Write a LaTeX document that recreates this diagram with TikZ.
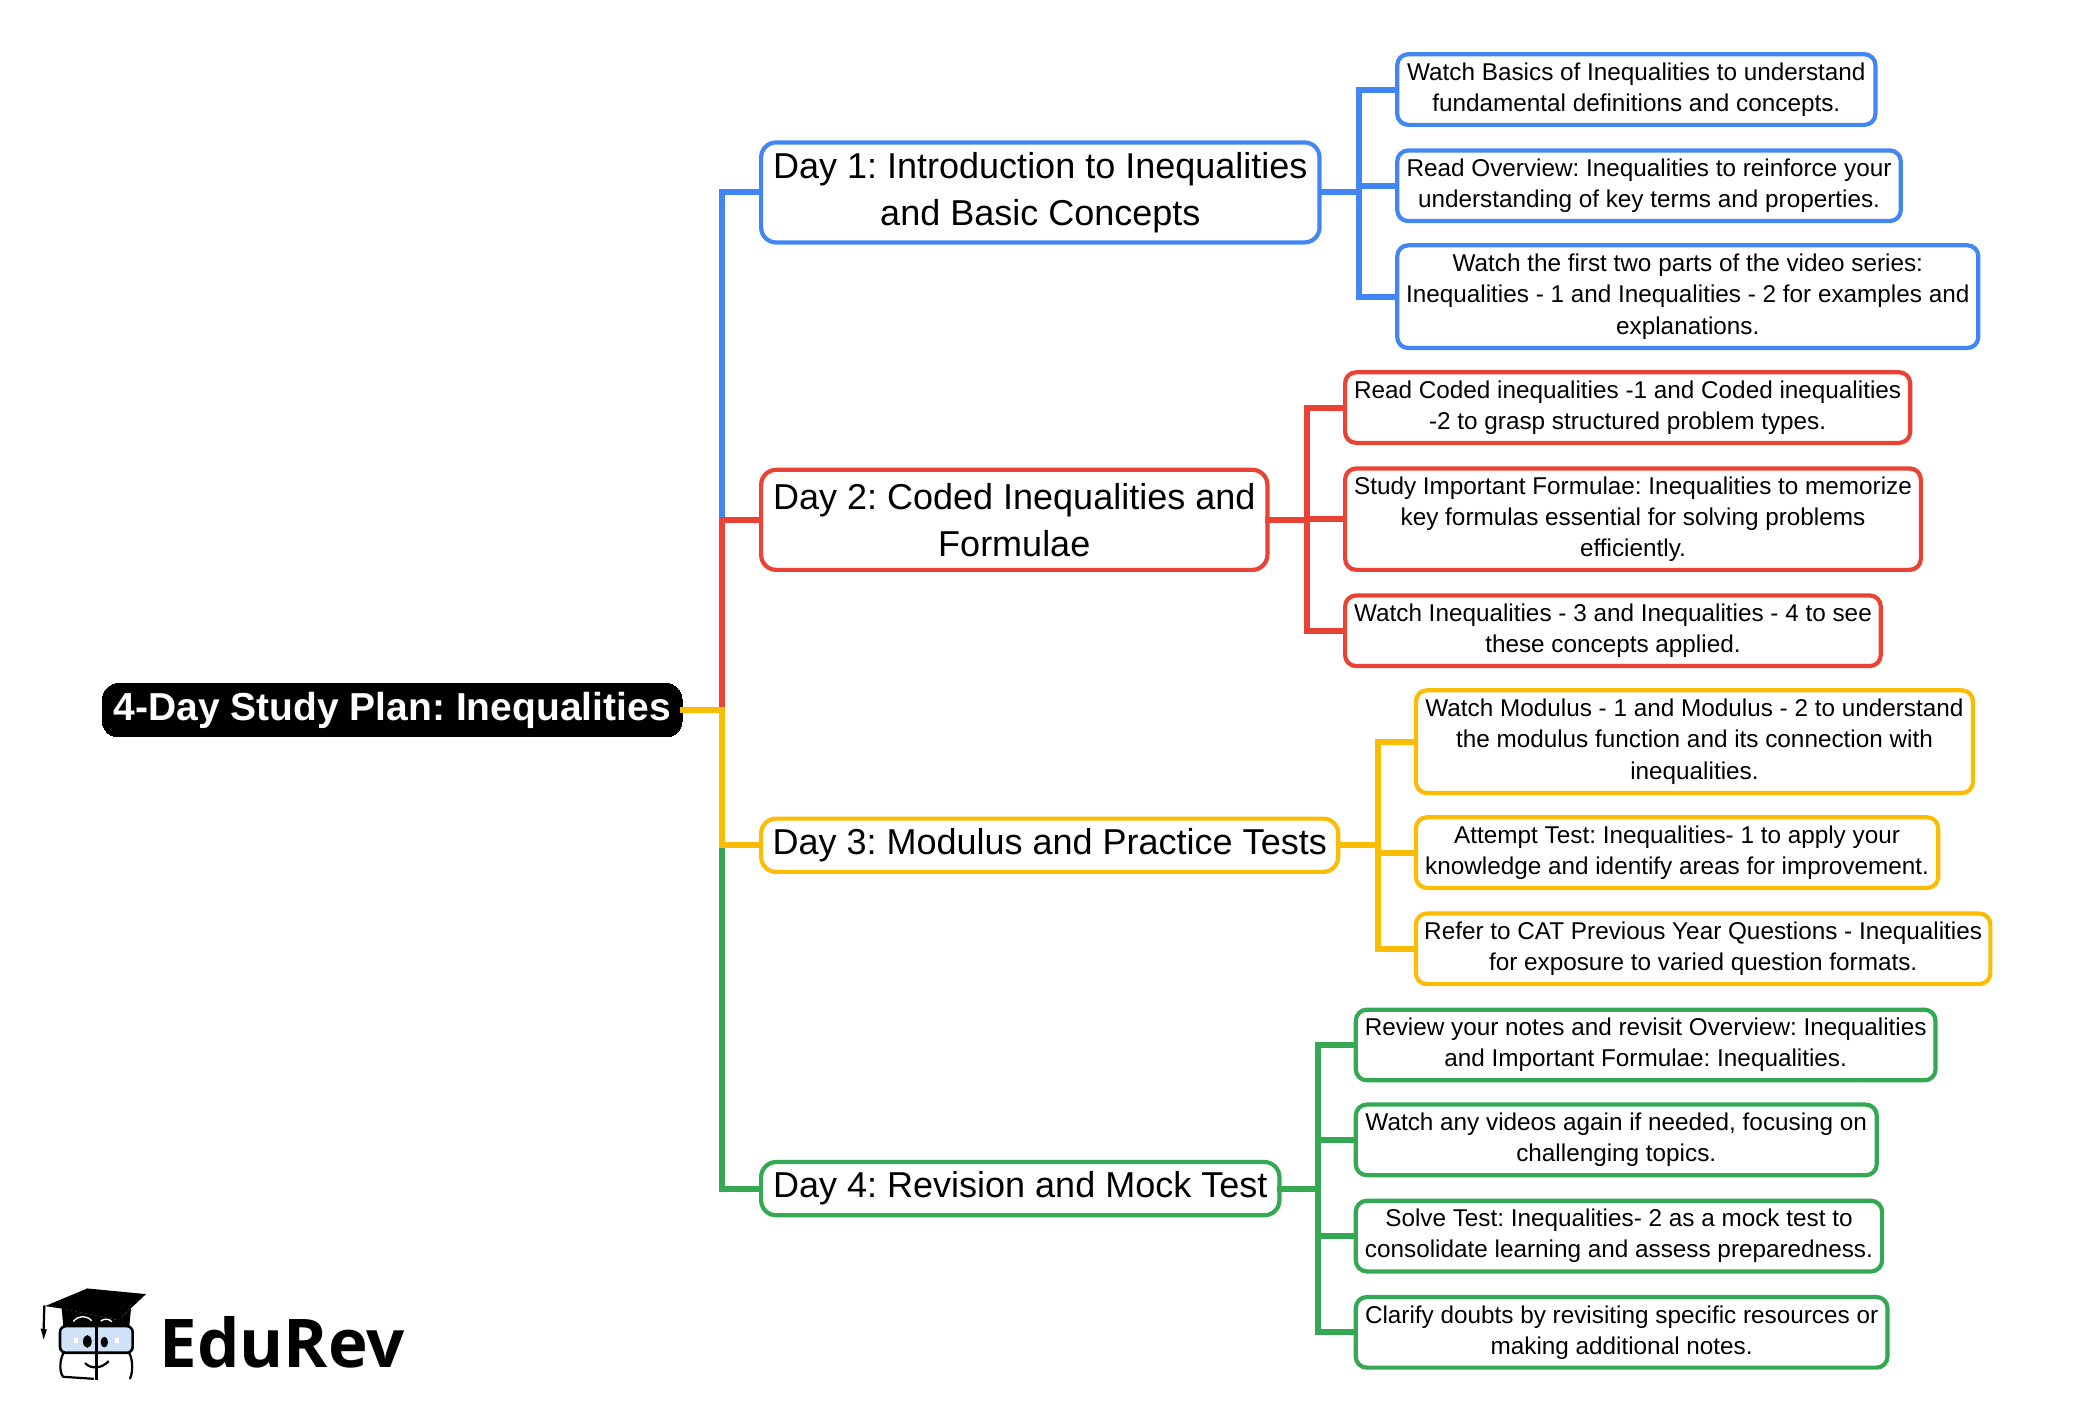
\documentclass[tikz,border=0pt]{standalone}
\usepackage{fontspec}
\setmainfont{Liberation Sans}
\newfontfamily\logofont{Open Sans}
\definecolor{cblue}{HTML}{4285F4}
\definecolor{cred}{HTML}{EA4335}
\definecolor{cyel}{HTML}{FBBC04}
\definecolor{cgreen}{HTML}{34A853}
\definecolor{cglass}{HTML}{CFE2F8}
\frenchspacing
\tikzset{
  box/.style={draw,fill=white,rounded corners=5.5pt,line width=2.1pt,inner sep=0pt,outer sep=0pt,align=center,text=black},
  leaf/.style={box,font=\fontsize{12.15}{15.6}\selectfont},
  daybox/.style={box,rounded corners=7.5pt,font=\fontsize{18}{23.4}\selectfont},
  rootbox/.style={draw=black,fill=black,text=white,rounded corners=8pt,inner sep=0pt,outer sep=0pt,line width=0pt,align=center,font=\fontsize{19.5}{24}\selectfont\bfseries},
  link/.style={line width=3pt,line join=miter,shorten <=-1pt,shorten >=-1pt},
  logoline/.style={line width=1.1pt,black,line cap=round}
}
\newcommand{\bx}[7]{%
  \pgfmathsetmacro{\cxx}{(#2+#4)/2}%
  \pgfmathsetmacro{\cyy}{(#3+#5)/2}%
  \pgfmathsetmacro{\ww}{(#4-#2)*0.66815-2.1}%
  \pgfmathsetmacro{\hh}{(#5-#3)*0.66815-2.1}%
  \node[#6,minimum width=\ww pt,minimum height=\hh pt] (#1) at (\cxx,\cyy) {#7};}
\begin{document}
\begin{tikzpicture}[x=0.66815pt,y=-0.66815pt]
\useasboundingbox (0,0) rectangle (1567,1062.6);
% root
\bx{root}{75}{510}{512}{553}{rootbox}{4-Day Study Plan: Inequalities}
% days
\bx{d1}{568}{105}{989}{183}{daybox,draw=cblue}{Day 1: Introduction to Inequalities\\and Basic Concepts}
\bx{d2}{568}{350}{950}{428}{daybox,draw=cred}{Day 2: Coded Inequalities and\\Formulae}
\bx{d3}{568}{611}{1003}{654}{daybox,draw=cyel}{Day 3: Modulus and Practice Tests}
\bx{d4}{568}{868}{959}{911}{daybox,draw=cgreen}{Day 4: Revision and Mock Test}
% leaves
\bx{a1}{1044}{39}{1405}{95}{leaf,draw=cblue}{Watch Basics of Inequalities to understand\\fundamental definitions and concepts.}
\bx{a2}{1044}{111}{1424}{167}{leaf,draw=cblue}{Read Overview: Inequalities to reinforce your\\understanding of key terms and properties.}
\bx{a3}{1044}{182}{1482}{262}{leaf,draw=cblue}{Watch the first two parts of the video series:\\Inequalities - 1 and Inequalities - 2 for examples and\\explanations.}
\bx{b1}{1005}{277}{1431}{333}{leaf,draw=cred}{Read Coded inequalities -1 and Coded inequalities\\-2 to grasp structured problem types.}
\bx{b2}{1005}{349}{1439}{428}{leaf,draw=cred}{Study Important Formulae: Inequalities to memorize\\key formulas essential for solving problems\\efficiently.}
\bx{b3}{1005}{444}{1409}{500}{leaf,draw=cred}{Watch Inequalities - 3 and Inequalities - 4 to see\\these concepts applied.}
\bx{c1}{1058}{515}{1478}{595}{leaf,draw=cyel}{Watch Modulus - 1 and Modulus - 2 to understand\\the modulus function and its connection with\\inequalities.}
\bx{c2}{1058}{610}{1452}{666}{leaf,draw=cyel}{Attempt Test: Inequalities- 1 to apply your\\knowledge and identify areas for improvement.}
\bx{c3}{1058}{682}{1491}{738}{leaf,draw=cyel}{Refer to CAT Previous Year Questions - Inequalities\\for exposure to varied question formats.}
\bx{e1}{1013}{754}{1450}{810}{leaf,draw=cgreen}{Review your notes and revisit Overview: Inequalities\\and Important Formulae: Inequalities.}
\bx{e2}{1013}{825}{1406}{881}{leaf,draw=cgreen}{Watch any videos again if needed, focusing on\\challenging topics.}
\bx{e3}{1013}{897}{1410}{953}{leaf,draw=cgreen}{Solve Test: Inequalities- 2 as a mock test to\\consolidate learning and assess preparedness.}
\bx{e4}{1013}{969}{1414}{1025}{leaf,draw=cgreen}{Clarify doubts by revisiting specific resources or\\making additional notes.}
% junctions
\coordinate (tx) at (540,0);
\coordinate (bxa) at (1017,0);
\coordinate (bxb) at (978,0);
\coordinate (bxc) at (1031,0);
\coordinate (bxe) at (986,0);
% trunk
\draw[link,cblue] (tx |- d2.west) -- (tx |- d1.west) -- (d1.west);
\draw[link,cred] (tx |- root.east) -- (tx |- d2.west) -- (d2.west);
\draw[link,cgreen] (tx |- d3.west) -- (tx |- d4.west) -- (d4.west);
\draw[link,cyel] (root.east) -- (tx |- root.east) -- (tx |- d3.west) -- (d3.west);
% blue branch
\draw[link,cblue] (d1.east) -- (bxa |- d1.east);
\draw[link,cblue] (a1.west) -- (bxa |- a1.west) -- (bxa |- a3.west) -- (a3.west);
\draw[link,cblue] (bxa |- a2.west) -- (a2.west);
% red branch
\draw[link,cred] (d2.east) -- (bxb |- d2.east);
\draw[link,cred] (b1.west) -- (bxb |- b1.west) -- (bxb |- b3.west) -- (b3.west);
\draw[link,cred] (bxb |- b2.west) -- (b2.west);
% yellow branch
\draw[link,cyel] (d3.east) -- (bxc |- d3.east);
\draw[link,cyel] (c1.west) -- (bxc |- c1.west) -- (bxc |- c3.west) -- (c3.west);
\draw[link,cyel] (bxc |- c2.west) -- (c2.west);
% green branch
\draw[link,cgreen] (d4.east) -- (bxe |- d4.east);
\draw[link,cgreen] (e1.west) -- (bxe |- e1.west) -- (bxe |- e4.west) -- (e4.west);
\draw[link,cgreen] (bxe |- e2.west) -- (e2.west);
\draw[link,cgreen] (bxe |- e3.west) -- (e3.west);
% logo
\node[anchor=base west,inner sep=0pt,font=\fontsize{33.6}{36}\selectfont\logofont\bfseries] (brand) at (119,1023.5) {EduRev};
\begin{scope}[shift={(0,928)},x=0.16667pt,y=-0.16667pt]
  \fill (135,198) -- (262,145) -- (438,162) -- (355,240) -- (183,205) -- cycle;
  \fill (185,205) -- (355,240) -- (393,205) -- (388,258) -- (190,258) -- cycle;
  \draw[white,line width=.7pt] (220,244) .. controls (235,225) and (260,225) .. (275,242);
  \draw[white,line width=.7pt] (302,243) .. controls (312,235) and (325,235) .. (336,245);
  \draw[logoline] (133,198) -- (131,265);
  \fill (122,265) -- (141,268) -- (131,298) -- cycle;
  \draw[line width=1.3pt,fill=cglass,rounded corners=3pt] (180,258) rectangle (398,338);
  \fill[white] (222,293) rectangle (234,308);
  \fill[white] (344,293) rectangle (356,308);
  \fill (262,304) ellipse [x radius=13,y radius=19];
  \fill (313,306) ellipse [x radius=11,y radius=16];
  \draw[line width=1.3pt] (290,258) -- (290,420);
  \draw[logoline] (190,340) .. controls (178,360) and (178,400) .. (190,410) -- (280,416);
  \draw[logoline] (388,340) .. controls (400,360) and (398,400) .. (390,415);
  \draw[logoline] (256,370) .. controls (275,388) and (305,385) .. (325,364);
\end{scope}
\end{tikzpicture}
\end{document}
